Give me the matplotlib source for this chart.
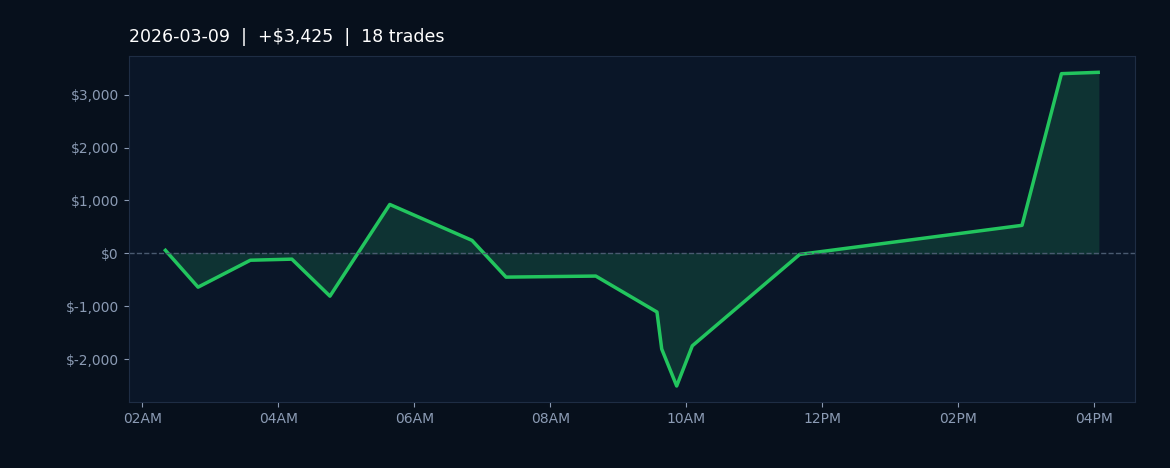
import matplotlib
matplotlib.use('Agg')
import matplotlib.pyplot as plt
import matplotlib.dates as mdates
import numpy as np
import pandas as pd

# trade times (hours of day) and cumulative P&L
hours = [2.34, 2.82, 3.59, 4.20, 4.76, 5.64, 6.85, 7.35, 8.67, 9.57, 9.64,
         9.86, 10.09, 11.67, 14.94, 15.52, 16.06]
pnl = [57, -640, -130, -110, -810, 925, 245, -450, -430, -1110, -1810,
       -2510, -1750, -20, 530, 3400, 3425]
title = '2026-03-09  |  +$3,425  |  18 trades'

times = pd.Timestamp('2026-03-09') + pd.to_timedelta(hours, unit='h')

fig = plt.figure(figsize=(11.7, 4.68), dpi=100, facecolor='#07101c')
ax = fig.add_axes([0.110, 0.140, 0.860, 0.740], facecolor='#0a1628')
ax.fill_between(times, pnl, 0, color='#0e3333', alpha=1.0)
ax.plot(times, pnl, color='#22c55e', lw=2.5)
ax.axhline(0, color='#4a5a70', lw=1, ls='--')

ax.set_xlim(pd.Timestamp('2026-03-09 01:48'), pd.Timestamp('2026-03-09 16:36'))
ax.set_ylim(-2822, 3731)
ax.set_yticks([-2000, -1000, 0, 1000, 2000, 3000])
ax.yaxis.set_major_formatter(plt.FuncFormatter(lambda v, p: f'${v:,.0f}'))
ax.xaxis.set_major_locator(mdates.HourLocator(byhour=range(2, 17, 2)))
ax.xaxis.set_major_formatter(mdates.DateFormatter('%I%p'))
ax.tick_params(colors='#8b9bb4', labelsize=10)
for s in ax.spines.values():
    s.set_color('#1e2d44')
ax.set_title(title, color='white', fontsize=12.5, loc='left', pad=10)

fig.savefig('out.png', facecolor=fig.get_facecolor())
